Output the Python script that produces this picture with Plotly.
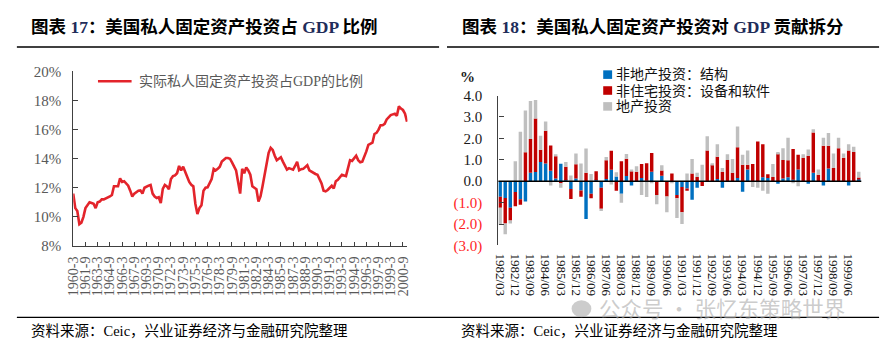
import plotly.graph_objects as go

W, H = 889, 352
def px(x):
    return x / W
def py(y):
    return 1 - y / H

# ---------------- Left chart data ----------------
left_quarters = [f"{y}-{m}" for y in range(1960, 2002) for m in (3, 6, 9, 12)][:165]
invest_share = [
    11.6, 10.6, 10.4, 9.5, 9.6, 10.0, 10.6, 10.8, 11.0, 10.95,
    10.9, 10.6, 11.0, 11.05, 11.2, 11.2, 11.25, 11.3, 11.4, 11.5,
    12.1, 12.1, 12.1, 12.65, 12.4, 12.45, 12.3, 12.14, 11.8, 11.4,
    11.6, 11.7, 11.8, 11.82, 11.6, 12.0, 12.1, 12.15, 12.2, 11.6,
    11.4, 11.3, 11.35, 10.95, 11.93, 12.2, 12.1, 11.9, 12.6, 12.8,
    12.85, 13.0, 13.5, 13.2, 13.45, 13.1, 12.8, 12.4, 12.2, 12.1,
    10.9, 10.2, 10.6, 10.8, 11.8, 12.0, 12.03, 12.3, 12.6, 13.3,
    13.2, 13.3, 13.45, 13.8, 13.95, 14.05, 14.05, 14.0, 13.75, 13.5,
    13.2, 12.4, 11.6, 13.3, 13.0, 13.4, 13.2, 12.9, 12.1, 12.0,
    11.9, 11.05, 11.4, 12.1, 12.9, 13.6, 14.4, 14.75, 14.6, 14.2,
    13.9, 14.0, 14.1, 13.8, 13.5, 13.25, 13.35, 13.3, 13.25, 13.5,
    13.78, 13.2, 13.28, 13.3, 13.45, 13.55, 13.2, 13.1, 13.0, 12.95,
    12.9, 12.6, 12.3, 11.8, 11.75, 11.85, 12.0, 12.14, 11.95, 12.45,
    12.55, 12.7, 12.9, 12.85, 12.8, 13.35, 13.9, 13.85, 14.05, 14.2,
    13.9, 13.75, 13.8, 14.1, 14.5, 14.95, 15.05, 15.1, 15.7, 15.78,
    16.0, 16.3, 16.3, 16.4, 16.7, 16.83, 17.0, 17.05, 17.1, 16.95,
    17.6, 17.45, 17.35, 17.1, 16.55,
]
left_tick_labels = [
    "1960-3", "1961-9", "1963-3", "1964-9", "1966-3", "1967-9", "1969-3",
    "1970-9", "1972-3", "1973-9", "1975-3", "1976-9", "1978-3", "1979-9",
    "1981-3", "1982-9", "1984-3", "1985-9", "1987-3", "1988-9", "1990-3",
    "1991-9", "1993-3", "1994-9", "1996-3", "1997-9", "1999-3", "2000-9",
]
left_y_ticks = [8, 10, 12, 14, 16, 18, 20]
left_y_labels = ["8%", "10%", "12%", "14%", "16%", "18%", "20%"]

# ---------------- Right chart data ----------------
right_quarters = [f"{y}/{m:02d}" for y in range(1982, 2000) for m in (3, 6, 9, 12)]
structures = [
    -0.73, -0.78, -1.24, -0.50, -0.84, -0.95, 0.39, 0.43, 0.90, 0.83,
    0.49, 0.13, 0.82, 0.05, -0.36, 0.13, -0.43, -1.76, -0.58, 0.05,
    -0.30, 0.10, 0.53, 0.22, -0.58, 0.24, -0.20, 0.00, 0.15, 0.02,
    0.44, 0.00, 0.25, 0.00, 0.00, -0.64, -0.27, -0.34, -0.86, -0.30,
    0.00, 0.00, 0.00, 0.10, -0.30, 0.00, 0.00, 0.15, -0.49, 0.55,
    0.00, 0.00, 0.18, 0.15, 0.00, -0.12, 0.13, 0.18, 0.07, 0.55,
    0.00, -0.12, 0.40, 0.00, -0.20, 0.59, 0.00, 0.00, 0.00, -0.20,
    0.00, 0.12,
]
equipment = [
    -0.51, -1.20, -0.60, -0.67, -0.26, 1.35, 1.58, 2.50, 0.57, 1.53,
    1.18, 1.03, -0.10, 0.63, -0.47, 0.66, -0.30, 0.39, -0.22, 0.42,
    -0.99, 0.88, 0.89, -0.45, 0.93, 0.81, 0.47, 0.44, 0.65, 0.82,
    0.88, -0.64, 0.25, -0.71, 0.36, -0.15, -1.18, -0.11, 0.36, 0.20,
    -0.22, 1.44, 0.77, 1.04, 0.44, 0.99, 0.40, 1.44, 0.77, 0.22,
    0.80, 1.85, 1.55, 0.18, 0.20, 1.29, 0.86, 0.80, 1.44, 0.69,
    1.10, 1.19, 1.88, 0.30, 1.66, 1.07, 0.62, 1.54, 1.10, 1.44,
    1.36, 0.05,
]
real_estate = [
    -0.80, -0.50, -0.14, 0.93, 2.31, 1.95, 1.78, 0.86, 0.65, 0.43,
    -0.20, 0.10, -0.20, 0.22, 0.27, 0.51, 0.83, 1.14, 0.34, 0.00,
    -0.10, 0.15, -0.15, 0.20, -0.42, 0.22, 0.05, 0.26, -0.64, -0.74,
    -0.10, -0.44, 0.25, -0.74, -0.10, -0.93, -0.55, 0.36, 0.68, 0.20,
    0.77, 0.66, 0.07, 0.59, 0.18, 0.27, 0.64, 0.96, 0.46, 0.67,
    -0.27, -0.30, -0.44, -0.59, 0.60, 0.07, 0.55, 1.05, -0.10, -0.24,
    0.16, 0.29, 0.15, 0.25, 0.37, 0.59, 0.67, 0.49, 0.19, 0.29,
    0.25, 0.27,
]
right_tick_labels = [
    "1982/03", "1982/12", "1983/09", "1984/06", "1985/03", "1985/12",
    "1986/09", "1987/06", "1988/03", "1988/12", "1989/09", "1990/06",
    "1991/03", "1991/12", "1992/09", "1993/06", "1994/03", "1994/12",
    "1995/09", "1996/06", "1997/03", "1997/12", "1998/09", "1999/06",
]
right_y_ticks = [-3, -2, -1, 0, 1, 2, 3, 4]
right_y_labels = ["(3.0)", "(2.0)", "(1.0)", "0.0", "1.0", "2.0", "3.0", "4.0"]
series_names = ["非地产投资：结构", "非住宅投资：设备和软件", "地产投资"]
series_colors = ["#0070C0", "#C00000", "#BFBFBF"]

SERIF = "Liberation Serif, Noto Sans CJK SC"
CJK = "Liberation Serif, Noto Sans CJK SC"
RED_TXT = "#FF1F1F"

fig = go.Figure()
fig.add_trace(go.Scatter(
    x=left_quarters, y=invest_share, mode="lines",
    line=dict(color="#E3242B", width=2.6),
    xaxis="x", yaxis="y", showlegend=False, cliponaxis=False,
))
for name, vals, color in zip(series_names, [structures, equipment, real_estate], series_colors):
    fig.add_trace(go.Bar(
        x=right_quarters, y=vals, name=name, marker=dict(color=color, line=dict(width=0)),
        width=0.68, xaxis="x2", yaxis="y2", showlegend=False,
    ))

right_ticktext = [
    (f"<span style='color:{RED_TXT}'>{t}</span>" if v < 0 else t)
    for v, t in zip(right_y_ticks, right_y_labels)
]

fig.update_layout(
    width=W, height=H, margin=dict(l=0, r=0, t=0, b=0),
    paper_bgcolor="white", plot_bgcolor="white",
    barmode="relative", bargap=0.3,
    xaxis=dict(
        domain=[px(67), px(405)], type="category", range=[0, 164.2],
        tickmode="array", tickvals=left_tick_labels, ticktext=left_tick_labels,
        tickangle=-90, ticks="inside", ticklen=4, tickcolor="#404040",
        showline=True, linecolor="#404040", linewidth=1, showgrid=False,
        tickfont=dict(family=SERIF, size=14, color="#595959"), anchor="y",
        ticklabelstandoff=4,
    ),
    yaxis=dict(
        domain=[py(250), py(66.7)], range=[8, 20],
        tickmode="array", tickvals=left_y_ticks, ticktext=left_y_labels,
        ticks="inside", ticklen=5, tickcolor="#404040",
        showline=True, linecolor="#404040", linewidth=1, showgrid=False,
        zeroline=False, tickfont=dict(family=SERIF, size=15, color="#595959"),
        anchor="x", ticklabelstandoff=8,
    ),
    xaxis2=dict(
        domain=[px(497), px(864)], type="category", range=[-0.35, 71.5],
        tickmode="array", tickvals=right_tick_labels, ticktext=right_tick_labels,
        tickangle=90, ticks="", showline=False, showgrid=False,
        tickfont=dict(family=SERIF, size=13, color="#111111"), anchor="y2",
        ticklabelstandoff=7,
    ),
    yaxis2=dict(
        domain=[py(249.5), py(92)], range=[-3, 4],
        tickmode="array", tickvals=right_y_ticks, ticktext=right_ticktext,
        ticks="inside", ticklen=5, tickcolor="#404040",
        showline=True, linecolor="#404040", linewidth=1.2, showgrid=False,
        zeroline=False, tickfont=dict(family=SERIF, size=15, color="#1A1A1A"),
        anchor="x2", ticklabelstandoff=12,
    ),
)

shapes = []
annotations = []
# zero line on top of bars
shapes.append(dict(type="line", xref="x2 domain", yref="y2", x0=0, x1=1, y0=0, y1=0,
                   line=dict(color="black", width=1.5), layer="above"))
# title underlines and footer line
shapes.append(dict(type="line", xref="paper", yref="paper", x0=px(10), x1=px(437), y0=py(41), y1=py(41),
                   line=dict(color="black", width=1.5)))
shapes.append(dict(type="line", xref="paper", yref="paper", x0=px(445), x1=px(882), y0=py(41), y1=py(41),
                   line=dict(color="black", width=1.5)))
shapes.append(dict(type="line", xref="paper", yref="paper", x0=px(10), x1=px(882), y0=py(325), y1=py(325),
                   line=dict(color="black", width=1.2)))
# left legend line
shapes.append(dict(type="line", xref="paper", yref="paper", x0=px(92), x1=px(126), y0=py(77), y1=py(77),
                   line=dict(color="#E3242B", width=2.6)))
annotations.append(dict(text="实际私人固定资产投资占GDP的比例", x=px(131), y=py(77), xref="paper", yref="paper",
                        xanchor="left", yanchor="middle", showarrow=False,
                        font=dict(family=CJK, size=14, color="#595959")))
# right legend
for i, (name, color) in enumerate(zip(series_names, series_colors)):
    yc = 70 + 16.7 * i
    shapes.append(dict(type="rect", xref="paper", yref="paper", x0=px(603), x1=px(612),
                       y0=py(yc + 4.5), y1=py(yc - 4.5), fillcolor=color, line=dict(width=0)))
    annotations.append(dict(text=name, x=px(614), y=py(yc), xref="paper", yref="paper",
                            xanchor="left", yanchor="middle", showarrow=False,
                            font=dict(family=CJK, size=14, color="#111111")))
# % label
annotations.append(dict(text="<b>%</b>", x=px(466), y=py(72), xref="paper", yref="paper",
                        xanchor="center", yanchor="middle", showarrow=False,
                        font=dict(family=SERIF, size=15, color="#1A1A1A")))
# titles
NAVY = "#1F2D5A"
annotations.append(dict(
    text=f"<b>图表 <span style='color:{NAVY}'>17</span>：美国私人固定资产投资占 <span style='color:{NAVY}'>GDP</span> 比例</b>",
    x=px(22), y=py(20), xref="paper", yref="paper", xanchor="left", yanchor="middle",
    showarrow=False, font=dict(family=CJK, size=17.5, color="black")))
annotations.append(dict(
    text=f"<b>图表 <span style='color:{NAVY}'>18</span>：美国私人固定资产投资对 <span style='color:{NAVY}'>GDP</span> 贡献拆分</b>",
    x=px(458), y=py(20), xref="paper", yref="paper", xanchor="left", yanchor="middle",
    showarrow=False, font=dict(family=CJK, size=17.5, color="black")))
# footers
for xf in (22, 457):
    annotations.append(dict(text="资料来源：Ceic，兴业证券经济与金融研究院整理", x=px(xf), y=py(339),
                            xref="paper", yref="paper", xanchor="left", yanchor="middle",
                            showarrow=False, font=dict(family=CJK, size=14.5, color="black")))
# watermark
annotations.append(dict(text="公众号 · 张忆东策略世界", x=px(597), y=py(315), xref="paper", yref="paper",
                        xanchor="left", yanchor="middle", showarrow=False,
                        font=dict(family="Noto Sans CJK SC", size=21.5, color="rgba(170,170,170,0.6)")))
shapes.append(dict(type="circle", xref="paper", yref="paper", x0=px(571), x1=px(591), y0=py(325), y1=py(307),
                   fillcolor="rgba(170,170,170,0.6)", line=dict(width=0)))

fig.update_layout(shapes=shapes, annotations=annotations)
fig.write_html("out.html")
